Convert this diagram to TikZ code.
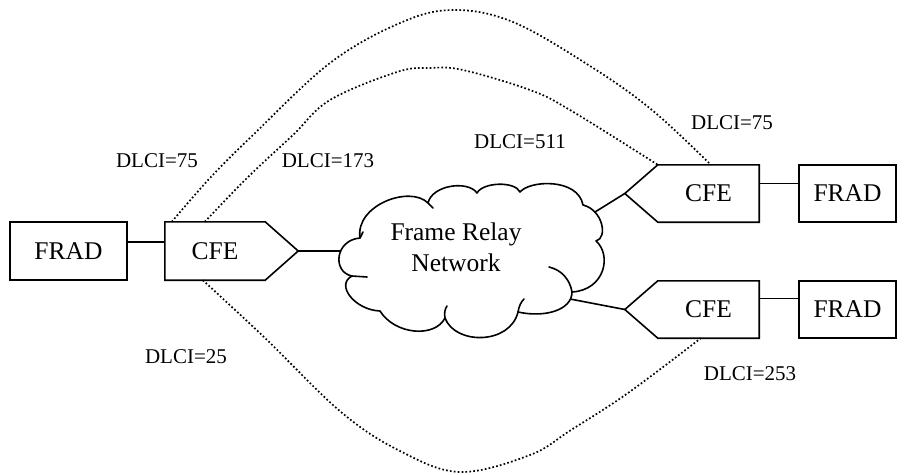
\documentclass[tikz,border=0pt]{standalone}
\usepackage{fontspec}
\setmainfont{Liberation Serif}
\begin{document}
\begin{tikzpicture}[x=1pt,y=-1pt,
  mainfont/.style={font=\fontsize{25.5}{31}\selectfont},
  fradbox/.style={draw, line width=1.6pt, inner sep=0pt, mainfont},
  cfebox/.style={inner sep=0pt, minimum width=100pt, minimum height=57pt, mainfont},
  cfeshape/.style={draw, line width=1.6pt, line join=miter},
  cloudline/.style={draw, line width=1.6pt, line join=round, line cap=round},
  link/.style={line width=1.6pt},
  lbl/.style={font=\fontsize{21}{25}\selectfont, inner sep=0pt},
  dotcurve/.style={line width=1.7pt, dash pattern=on 1.7pt off 2.2pt}
]
\useasboundingbox (0,0) rectangle (904,474);

% FRAD boxes
\node[fradbox, minimum width=117pt, minimum height=58pt] (fradL) at (68.5,251) {FRAD};
\node[fradbox, minimum width=97pt, minimum height=57pt] (fradU) at (847.5,193.5) {FRAD};
\node[fradbox, minimum width=97pt, minimum height=57pt] (fradD) at (847.5,309.5) {FRAD};

% CFE boxes
\node[cfebox, minimum height=58pt] (cfeL) at (215,251) {CFE};
\node[cfebox, minimum width=101pt] (cfeU) at (708.5,193.5) {CFE};
\node[cfebox, minimum width=101pt] (cfeD) at (708.5,309.5) {CFE};
\coordinate (tipL) at ([xshift=33pt]cfeL.east);
\coordinate (tipU) at ([xshift=-33pt]cfeU.west);
\coordinate (tipD) at ([xshift=-33pt]cfeD.west);
\draw[cfeshape] (cfeL.north west) -- (cfeL.north east) -- (tipL) -- (cfeL.south east) -- (cfeL.south west) -- cycle;
\draw[cfeshape] (cfeU.north east) -- (cfeU.north west) -- (tipU) -- (cfeU.south west) -- (cfeU.south east) -- cycle;
\draw[cfeshape] (cfeD.north east) -- (cfeD.north west) -- (tipD) -- (cfeD.south west) -- (cfeD.south east) -- cycle;

% Cloud (Frame Relay Network)
\draw[cloudline]
  (352,276) .. controls (332,272) and (335,240) .. (360,238)
            .. controls (355,205) and (410,185) .. (428,203)
            .. controls (432,185) and (468,180) .. (477,193)
            .. controls (483,182) and (515,181) .. (520,192)
            .. controls (530,180) and (578,178) .. (583,205)
            .. controls (603,210) and (608,238) .. (596,241)
            .. controls (612,255) and (605,290) .. (572,292)
            .. controls (572,310) and (545,318) .. (518,312)
            .. controls (510,345) and (455,345) .. (445,318)
            .. controls (435,338) and (395,335) .. (380,311)
            .. controls (355,310) and (335,285) .. (352,276);
% inner hooks of the cloud puffs
\draw[cloudline] (352,276) -- (367,277);
\draw[cloudline] (572,292) .. controls (570,280) and (562,270) .. (549,267);
\draw[cloudline] (428,203) -- (433,208);
\draw[cloudline] (518,312) .. controls (519,306) and (521,302) .. (524,299);
\draw[cloudline] (445,318) .. controls (444,313) and (445,309) .. (447,306);
\draw[cloudline] (360,238) -- (363,232);
\node[mainfont, align=center, inner sep=0pt] (cloud) at (456,247) {Frame Relay\\Network};
\coordinate (cloudW) at (340,251);
\coordinate (cloudU) at (595,212);
\coordinate (cloudD) at (570,299);

% Links
\draw[link] ([yshift=9pt]fradL.east) -- ([yshift=9pt]cfeL.west);
\draw[link] ([yshift=10pt]fradU.west) -- ([yshift=10pt]cfeU.east);
\draw[link] ([yshift=11pt]fradD.west) -- ([yshift=11pt]cfeD.east);
\draw[link] (tipL) -- (cloudW);
\draw[link] (tipU) -- (cloudU);
\draw[link] (tipD) -- (cloudD);

% Dotted virtual circuits
\coordinate (oS) at ([xshift=7pt]cfeL.north west);
\coordinate (iS) at ([xshift=40pt]cfeL.north west);
\coordinate (bS) at ([xshift=38pt]cfeL.south west);
\coordinate (oE) at ([xshift=53pt]cfeU.north west);
\coordinate (iE) at (cfeU.north west);
\coordinate (bE) at ([xshift=43pt]cfeD.south west);
\draw[dotcurve] plot[smooth, tension=0.6] coordinates {(oS) (210,178) (253,135) (330,63) (400,23) (453,10) (513,22) (590,66) (652,110) (oE)};
\draw[dotcurve] plot[smooth, tension=0.6] coordinates {(iS) (247,178) (293,135) (330,100) (397,72) (430,68) (463,70) (530,90) (570,110) (iE)};
\draw[dotcurve] plot[smooth, tension=0.6] coordinates {(bS) (265,338) (341,412) (400,451) (460,472) (530,455) (571,430) (628,393) (bE)};

% Labels
\node[lbl] (l75L) at (157,161) {DLCI=75};
\node[lbl] (l173) at (328,161) {DLCI=173};
\node[lbl] (l511) at (520,142) {DLCI=511};
\node[lbl] (l75R) at (732,123) {DLCI=75};
\node[lbl] (l25) at (186,357) {DLCI=25};
\node[lbl] (l253) at (750,374) {DLCI=253};
\end{tikzpicture}
\end{document}
